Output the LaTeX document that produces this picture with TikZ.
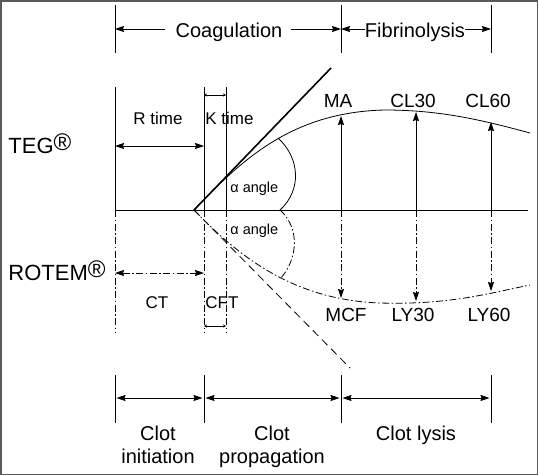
\documentclass[tikz,border=0pt]{standalone}
\usepackage{fontspec}
\setmainfont{Liberation Sans}
\usetikzlibrary{arrows.meta}

\tikzset{
	lbl/.style={inner sep=0pt, anchor=base},
	lblw/.style={inner sep=0pt, anchor=base west},
	fbig/.style={font=\fontsize{22}{26}\selectfont},
	fphase/.style={font=\fontsize{20}{23}\selectfont},
	fval/.style={font=\fontsize{19}{22}\selectfont},
	ftime/.style={font=\fontsize{17}{20}\selectfont},
	fangle/.style={font=\fontsize{14.5}{17}\selectfont},
	tip/.style={-{Stealth[length=9pt,width=6pt,inset=1pt]}},
	twoway/.style={{Stealth[length=9pt,width=6pt,inset=1pt]}-{Stealth[length=9pt,width=6pt,inset=1pt]}},
	mini/.style={{Stealth[length=3pt,width=3pt]}-{Stealth[length=3pt,width=3pt]}, line width=0.6pt},
	bar/.style={line width=1pt},
	dashdot/.style={dash pattern=on 7pt off 2.5pt on 1.5pt off 2.5pt},
	dashlong/.style={dash pattern=on 8pt off 5pt},
}
\newcommand{\regmark}{\raisebox{0.12em}{\fontsize{24}{24}\selectfont ®}}

\begin{document}
\begin{tikzpicture}[x=1pt,y=-1pt,line width=0.8pt]
	\useasboundingbox (0,0) rectangle (538,475);
	\draw[black!65, line width=1.5pt] (0.75,0.75) rectangle (537.25,474.25);

	%phases on top
	\draw[bar] (115,5)--(115,53);
	\draw[bar] (341,5)--(341,53);
	\draw[bar] (491,5)--(491,53);
	\coordinate (c0) at (115,29);
	\coordinate (c1) at (341,29);
	\coordinate (c2) at (491,29);
	\node[lbl, fphase] (coag) at (229,37) {Coagulation};
	\node[lbl, fphase] (fibr) at (415,37) {Fibrinolysis};
	\draw[tip] ([xshift=-10pt]coag.west |- c0)--(c0);
	\draw[tip] ([xshift=8pt]coag.east |- c1)--(c1);
	\draw[tip] (fibr.west |- c1)--(c1);
	\draw[tip] (fibr.east |- c2)--(c2);

	%TEG part
	\node[lblw, fbig] (teg) at (8,153) {TEG\regmark};
	\draw (115,87)--(115,210);
	\draw (204,87)--(204,210);
	\draw (226,87)--(226,210);
	\node[lbl, ftime] (rtime) at (158,124) {R time};
	\node[lblw, ftime] (ktime) at (205,124) {K time};
	\draw[mini] (204,95)--(226,95);
	\draw[twoway] (115,146)--(204,146);
	\coordinate (v) at (194,210);				%start of clot formation
	\draw (115,210)--(528,210);					%baseline
	\draw[line width=1.6pt] (v)--(331,68);		%tangent
	\draw (v) .. controls (240,162) and (290,112) .. (385,110)
		.. controls (440,110) and (482,120) .. (530,133);
	\draw (278,138) .. controls (300,158) and (302,190) .. (280,210);
	\node[lblw, fangle] (alpha1) at (230,192) {α angle};
	\foreach \x/\y/\t [count=\i] in {341/116/MA, 416/112/CL30, 491/122/CL60}{
		\draw[tip] (\x,210)--(\x,\y);
		\node[lbl, fval] (teg\i) at (\x-3,107) {\t};
	}

	%ROTEM part
	\node[lblw, fbig] (rotem) at (8,280) {ROTEM\regmark};
	\draw[dashdot] (115,210)--(115,333);
	\draw[dashdot] (204,210)--(204,333);
	\draw[dashdot] (226,210)--(226,333);
	\draw[dashdot, twoway] (115,273)--(204,273);
	\node[lbl, ftime] (ct) at (157,308) {CT};
	\node[lblw, ftime] (cft) at (205,308) {CFT};
	\draw[mini] (204,326)--(226,326);
	\draw[dashlong] (v)--(350,368);				%tangent
	\draw[dashdot] (v) .. controls (240,258) and (295,300) .. (380,303)
		.. controls (450,305) and (490,293) .. (530,285);
	\draw[dashdot] (280,210) .. controls (300,228) and (298,258) .. (281,278);
	\node[lblw, fangle] (alpha2) at (230,234) {α angle};
	\foreach \x/\y [count=\i] in {341/298, 416/301, 491/291}{
		\draw[dashdot, tip] (\x,210)--(\x,\y);
	}
	\node[lbl, fval] (rot1) at (346,321) {MCF};
	\node[lbl, fval] (rot2) at (413,321) {LY30};
	\node[lbl, fval] (rot3) at (489,321) {LY60};

	%phases at the bottom
	\foreach \x [count=\i] in {115,204,341,491}{
		\draw[bar] (\x,375)--(\x,423);
		\coordinate (p\i) at (\x,398);
	}
	\draw[twoway, shorten <=1.5pt, shorten >=1.5pt] (p1)--(p2);
	\draw[twoway, shorten <=1.5pt, shorten >=1.5pt] (p2)--(p3);
	\draw[twoway, shorten <=1.5pt, shorten >=1.5pt] (p3)--(p4);
	\node[lbl, fphase] (init1) at (158,440) {Clot};
	\node[lbl, fphase] (init2) at (158,463) {initiation};
	\node[lbl, fphase] (prop1) at (272,440) {Clot};
	\node[lbl, fphase] (prop2) at (272,463) {propagation};
	\node[lbl, fphase] (lysis) at (416,440) {Clot lysis};
\end{tikzpicture}
\end{document}
